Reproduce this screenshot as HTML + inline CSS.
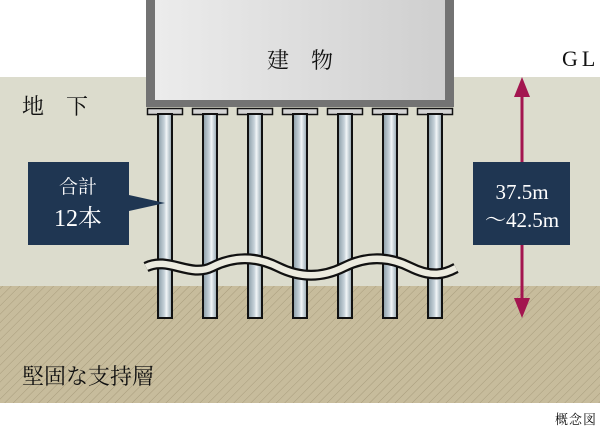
<!DOCTYPE html>
<html><head><meta charset="utf-8"><style>
html,body{margin:0;padding:0;background:#fff;}
svg{display:block;}
text{font-family:"Liberation Serif","Noto Serif CJK SC",serif;}
</style></head><body>
<svg width="600" height="428" viewBox="0 0 600 428" xmlns="http://www.w3.org/2000/svg">
<defs>
<pattern id="hatch" width="6" height="6" patternUnits="userSpaceOnUse" patternTransform="rotate(45)">
<rect width="6" height="6" fill="#c7bc9c"/>
<line x1="0" y1="0" x2="0" y2="6" stroke="#a89c7c" stroke-width="1"/>
</pattern>
<linearGradient id="pile" x1="0" x2="1">
<stop offset="0" stop-color="#8a9ca6"/><stop offset="0.45" stop-color="#c7d3da"/><stop offset="0.6" stop-color="#f2f6f8"/><stop offset="1" stop-color="#8fa2ac"/>
</linearGradient>
<linearGradient id="bld" x1="0" x2="1">
<stop offset="0" stop-color="#ececec"/><stop offset="1" stop-color="#cfcfcf"/>
</linearGradient>
</defs>
<rect x="0" y="77" width="600" height="209" fill="#dcdccd"/>
<rect x="0" y="286" width="600" height="117" fill="url(#hatch)"/>
<rect x="146" y="-5" width="308" height="112" fill="#737373"/>
<rect x="155" y="-5" width="290" height="105" fill="url(#bld)"/>
<text x="300" y="68" font-size="22" text-anchor="middle" fill="#111">建　物</text>
<text x="562" y="66" font-size="22" fill="#111" letter-spacing="4">GL</text>
<text x="22" y="114" font-size="22" fill="#111">地　下</text>
<g stroke="#111" stroke-width="1.5">
<g id="p"><rect x="147.5" y="108.5" width="35" height="6" fill="#d4d4d4"/><rect x="158" y="114" width="14" height="204" fill="url(#pile)" stroke-width="2"/></g>
<use href="#p" x="45"/><use href="#p" x="90"/><use href="#p" x="135"/><use href="#p" x="180"/><use href="#p" x="225"/><use href="#p" x="270"/>
</g>
<path d="M146,267 C168,256 190,278 212,267 S256,256 278,267 S322,278 344,267 S388,256 410,267 S445,274 456,268" fill="none" stroke="#111" stroke-width="11"/>
<path d="M146,267 C168,256 190,278 212,267 S256,256 278,267 S322,278 344,267 S388,256 410,267 S445,274 456,268" fill="none" stroke="#ecebdf" stroke-width="6.5"/>
<rect x="28" y="162" width="101" height="83" fill="#1f3652"/>
<polygon points="129,195 165,203 129,211" fill="#1f3652"/>
<text x="78" y="193" font-size="19" fill="#fff" text-anchor="middle">合計</text>
<text x="78" y="226" font-size="24" fill="#fff" text-anchor="middle">12本</text>
<line x1="522" y1="90" x2="522" y2="305" stroke="#a3154f" stroke-width="3"/>
<polygon points="522,77 514,97 530,97" fill="#a3154f"/>
<polygon points="522,318 514,298 530,298" fill="#a3154f"/>
<rect x="473" y="162" width="97" height="83" fill="#1f3652"/>
<text x="522" y="199" font-size="21" fill="#fff" text-anchor="middle">37.5m</text>
<text x="522" y="227" font-size="21" fill="#fff" text-anchor="middle">～42.5m</text>
<text x="22" y="384" font-size="22" fill="#111">堅固な支持層</text>
<text x="597" y="424" font-size="13" fill="#111" text-anchor="end" letter-spacing="1">概念図</text>
</svg>
</body></html>
